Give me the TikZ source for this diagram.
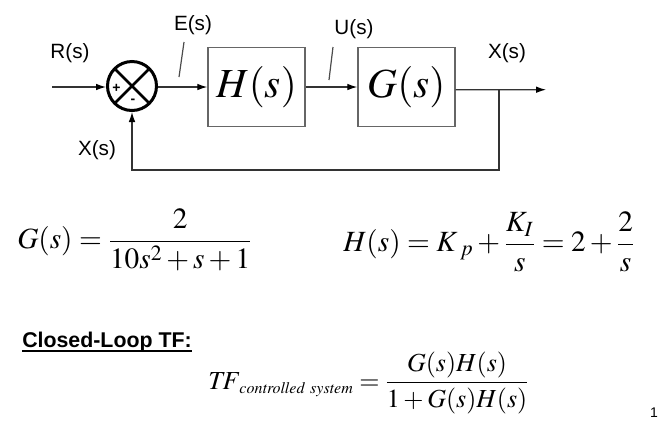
\documentclass[tikz,border=0pt]{standalone}
\usepackage{mathptmx}
\usepackage[no-math]{fontspec}
\newfontfamily\arial{Liberation Sans}
\usetikzlibrary{arrows.meta}
\begin{document}
\begin{tikzpicture}[x=0.75pt,y=-0.75pt,
  conn/.style={line width=0.9pt, draw=black!80},
  arr/.style={conn,-{Latex[length=7.5pt,width=5pt,color=black]}},
  blockbox/.style={draw=black!60, line width=1.1pt, minimum width=72.75pt, minimum height=59.25pt, inner sep=0pt, font=\fontsize{31}{31}\selectfont},
  lbl/.style={font=\arial\fontsize{15.5}{18}\selectfont, inner sep=0pt},
  signmark/.style={font=\arial\bfseries\fontsize{10.5}{11}\selectfont, inner sep=0pt},
  slashmark/.style={line width=0.9pt, draw=black!70},
  eq/.style={inner sep=0pt, font=\fontsize{22}{26}\selectfont},
  crossline/.style={line width=2pt}
]
\useasboundingbox (0,0) rectangle (658,430);

% blocks
\node[circle, draw, line width=2.25pt, minimum size=36.75pt, inner sep=0pt] (sum) at (132,86) {};
\draw[crossline] (sum.center) ++(-16.5,-16.5) -- ++(33,33);
\draw[crossline] (sum.center) ++(16.5,-16.5) -- ++(-33,33);
\node[signmark] (plus) at (116.5,88.5) {+};
\node[signmark] (minus) at (133,101.5) {-};

\node[blockbox] (H) at (256.5,87) {$H(s)$};
\node[blockbox] (G) at (406.5,87) {$G(s)$};

% connectors
\coordinate (rin) at (52,87);
\coordinate (branch) at (499,89.7);
\coordinate (xout) at (546,89.7);
\coordinate (fbr) at (499,170);
\coordinate (fbl) at (132,170);
\draw[arr] (rin) -- (sum.west |- rin);
\draw[arr] (sum.east |- H) -- (H);
\draw[arr] (H) -- (G);
\draw[arr] ([yshift=-2pt]G.east) -- (xout);
\draw[arr] (branch) -- (fbr) -- (fbl) -- (sum);

% slash marks
\coordinate (e1) at (184,42);
\coordinate (e2) at (179,77);
\coordinate (u1) at (333,47);
\coordinate (u2) at (329,80);
\draw[slashmark] (e1) -- (e2);
\draw[slashmark] (u1) -- (u2);

% labels
\node[lbl] (Rlbl) at (70,53) {R(s)};
\node[lbl] (Elbl) at (193,25) {E(s)};
\node[lbl] (Ulbl) at (354,29) {U(s)};
\node[lbl] (Xout) at (507,53) {X(s)};
\node[lbl] (Xfb) at (97,150) {X(s)};

% equations
\node[eq, anchor=west] (Geq) at (17,240) {$\displaystyle G(s)=\frac{2}{10s^{2}+s+1}$};
\node[eq, anchor=west] (Heq) at (343,242) {$\displaystyle H(s)=K_{\;p}+\frac{K_{I}}{s}=2+\frac{2}{s}$};

\node[font=\arial\bfseries\fontsize{16}{19}\selectfont, anchor=west, inner sep=0pt] (cl) at (22,342) {Closed-Loop TF:};
\draw[line width=1.5pt] ([yshift=-2.6pt]cl.base west) -- ([yshift=-2.6pt]cl.base east);

\node[eq, anchor=west, font=\fontsize{19.5}{24}\selectfont] (TFeq) at (208,383) {$\displaystyle \mathit{TF}_{\mbox{\fontsize{12}{13}\selectfont$\mathit{controlled\ system}$}}=\frac{G(s)H(s)}{1+G(s)H(s)}$};

\node[font=\arial\fontsize{10.5}{12}\selectfont, inner sep=0pt] (pagenum) at (654,413) {1};
\end{tikzpicture}
\end{document}
